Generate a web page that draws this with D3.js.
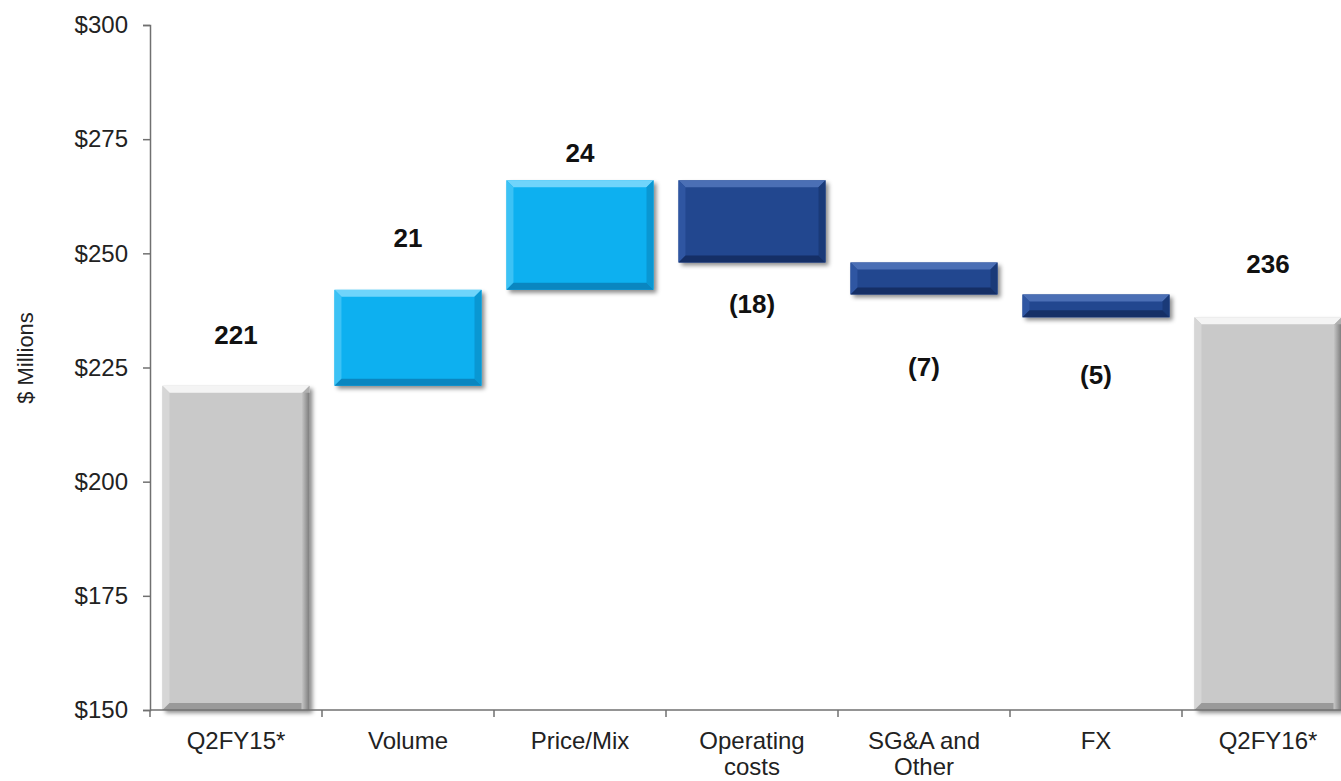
<!DOCTYPE html>
<html><head><meta charset="utf-8">
<script src="https://cdn.jsdelivr.net/npm/d3@7"></script>
<style>body{margin:0;background:#fff;}svg{display:block;}text{font-family:"Liberation Sans",Arial,Helvetica,sans-serif;}</style>
</head><body>
<svg id="c" width="1341" height="781"></svg>
<script>
const categories = ["Q2FY15*", "Volume", "Price/Mix", "Operating\ncosts", "SG&A and\nOther", "FX", "Q2FY16*"];
const changes = [221, 21, 24, -18, -7, -5, 236];
const kinds = ["total", "delta", "delta", "delta", "delta", "delta", "total"];
const valueLabels = ["221", "21", "24", "(18)", "(7)", "(5)", "236"];
const yTicks = [150, 175, 200, 225, 250, 275, 300];

// label offsets (pixels from bar edge) - layout only
const labelOffset = [-51, -52, -27, 41, 72, 58, -53];

const svg = d3.select("#c");
const x = d3.scaleBand().domain(d3.range(categories.length)).range([150, 150 + 172*7]).paddingInner(0.145).paddingOuter(0.0725);
const y = d3.scaleLinear().domain([150, 300]).range([710, 25]);

// compute waterfall
let run = 0;
const bars = changes.map((v, i) => {
  let lo, hi;
  if (kinds[i] === "total") { lo = 150; hi = v; run = v; }
  else { const s = run; run = run + v; lo = Math.min(s, run); hi = Math.max(s, run); }
  return {i, lo, hi, v, kind: kinds[i], neg: v < 0};
});

const defs = svg.append("defs");
const f = defs.append("filter").attr("id","sh").attr("x","-10%").attr("y","-10%").attr("width","130%").attr("height","140%");
f.append("feDropShadow").attr("dx",3).attr("dy",3).attr("stdDeviation",2).attr("flood-color","#000").attr("flood-opacity",0.45);
const gr = defs.append("linearGradient").attr("id","gr").attr("x1",0).attr("x2",1);
gr.append("stop").attr("offset",0).attr("stop-color","#c9c9c9");
gr.append("stop").attr("offset",1).attr("stop-color","#7a7a7a");

const pal = {
  total: {base:"#c9c9c9", top:"#f4f4f4", bot:"#9a9a9a", side:"#b0b0b0", lside:"#d6d6d6"},
  pos:   {base:"#0bb0f0", top:"#6fd4fb", bot:"#0a86c0", side:"#0a97d2", lside:"#3cc2f5"},
  neg:   {base:"#21468f", top:"#4b6fb5", bot:"#152f66", side:"#1a3a78", lside:"#2f56a2"}
};

const g = svg.append("g");
bars.forEach(b => {
  const p = b.kind === "total" ? pal.total : (b.neg ? pal.neg : pal.pos);
  const x0 = x(b.i), w = x.bandwidth();
  const y0 = y(b.hi), h = y(b.lo) - y(b.hi);
  const bv = Math.min(7, h/3);
  const gg = g.append("g");
  gg.append("rect").attr("x",x0).attr("y",y0).attr("width",w).attr("height",h).attr("fill",p.base).attr("filter","url(#sh)");
  gg.append("path").attr("d",`M${x0},${y0}L${x0+w},${y0}L${x0+w-bv},${y0+bv}L${x0+bv},${y0+bv}Z`).attr("fill",p.top);
  gg.append("path").attr("d",`M${x0},${y0}L${x0+bv},${y0+bv}L${x0+bv},${y0+h-bv}L${x0},${y0+h}Z`).attr("fill",p.lside);
  gg.append("path").attr("d",`M${x0+w},${y0}L${x0+w},${y0+h}L${x0+w-bv},${y0+h-bv}L${x0+w-bv},${y0+bv}Z`).attr("fill",p.side);
  gg.append("path").attr("d",`M${x0},${y0+h}L${x0+w},${y0+h}L${x0+w-bv},${y0+h-bv}L${x0+bv},${y0+h-bv}Z`).attr("fill",p.bot);
  if (b.kind === "total") {
    gg.append("rect").attr("x",x0+w-bv-1).attr("y",y0+bv).attr("width",bv+1).attr("height",h-bv).attr("fill","url(#gr)");
  }
});

// value labels
bars.forEach(b => {
  const base = b.neg ? y(b.lo) : y(b.hi);
  svg.append("text").attr("x", x(b.i) + x.bandwidth()/2).attr("y", base + labelOffset[b.i])
    .attr("dy","0.35em").attr("text-anchor","middle").attr("font-size",26).attr("font-weight","bold").attr("fill","#111")
    .text(valueLabels[b.i]);
});

// y axis
const ya = svg.append("g").attr("transform","translate(150,0)").call(d3.axisLeft(y).tickValues(yTicks).tickFormat(d => "$" + d).tickSize(7).tickPadding(15));
ya.select(".domain").attr("stroke","#707070").attr("stroke-width",1.5);
ya.selectAll(".tick line").attr("stroke","#707070").attr("stroke-width",1.5);
ya.selectAll(".tick text").attr("font-size",24).attr("fill","#222").attr("font-family","Liberation Sans, Arial, sans-serif");

// x axis
const xa = svg.append("g").attr("transform","translate(0,710)");
xa.append("line").attr("x1",150).attr("x2",1341).attr("stroke","#707070").attr("stroke-width",1.5);
const bounds = d3.range(categories.length + 1).map(i => 150 + i*x.step());
xa.selectAll("line.tk").data(bounds).join("line").attr("class","tk").attr("x1",d=>d).attr("x2",d=>d).attr("y1",0).attr("y2",7).attr("stroke","#707070").attr("stroke-width",1.5);
categories.forEach((c, i) => {
  const t = xa.append("text").attr("x", x(i) + x.bandwidth()/2).attr("y", 39).attr("text-anchor","middle").attr("font-size",24).attr("fill","#222");
  c.split("\n").forEach((ln, k) => t.append("tspan").attr("x", x(i) + x.bandwidth()/2).attr("dy", k === 0 ? 0 : 26).text(ln));
});

// y title
svg.append("text").attr("transform","translate(33,358) rotate(-90)").attr("text-anchor","middle").attr("font-size",22).attr("fill","#222").text("$ Millions");
</script>
</body></html>
